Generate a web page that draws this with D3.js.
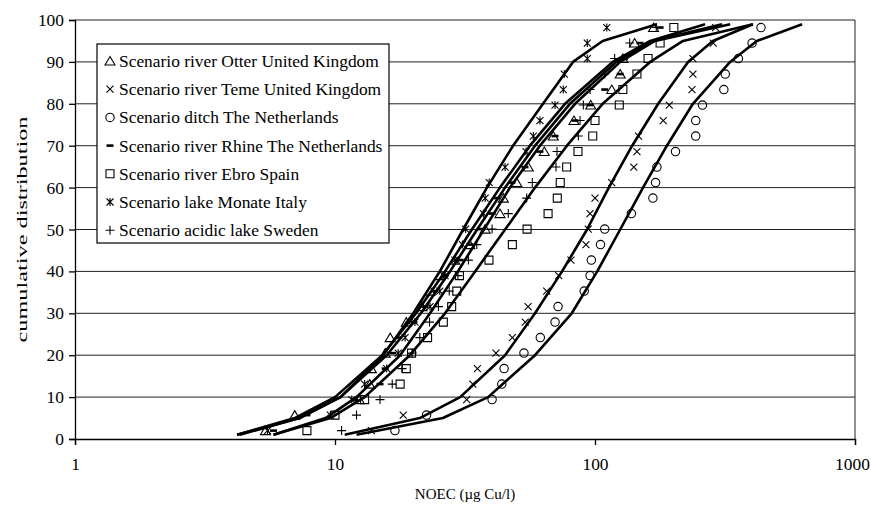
<!DOCTYPE html>
<html>
<head>
<meta charset="utf-8">
<script src="https://cdn.jsdelivr.net/npm/d3@7"></script>
<style>
  body { margin: 0; background: #fff; }
  svg text { font-family: "Liberation Serif", "Times New Roman", "DejaVu Serif", serif; fill: #000; }
</style>
</head>
<body>
<div id="chart"></div>
<script>
// cumulative rank (%) of the 27 species, same for every scenario
const rankPct = [2.0, 5.7, 9.4, 13.1, 16.8, 20.5, 24.2, 27.9, 31.6, 35.3, 39.0, 42.7, 46.4, 50.1,
  53.8, 57.5, 61.2, 64.9, 68.6, 72.3, 76.0, 79.7, 83.4, 87.1, 90.8, 94.5, 98.2];

// NOEC values (ug Cu/l) per scenario
const otterPts  = [5.4, 7.0, 12.4, 13.6, 13.8, 15.6, 16.3, 18.8, 21.6, 23.2, 25.3, 28.9, 33.0, 37.8, 43.1, 44.4, 50.0, 55.4, 63.8, 69.1, 83.0, 96.3, 116, 125, 128, 142, 168];
const temePts   = [13.8, 18.3, 32.1, 33.9, 35.3, 41.6, 48.1, 53.9, 55.3, 65.2, 72.5, 80.8, 92.3, 94.2, 95.7, 100, 116, 141, 145, 147, 183, 193, 236, 238, 238, 285, 291];
const ditchPts  = [17.0, 22.5, 40.2, 43.8, 44.7, 53.3, 61.6, 70.2, 72.1, 90.9, 95.7, 96.8, 105, 109, 138, 167, 171, 173, 204, 244, 244, 259, 313, 317, 356, 402, 435];
const rhinePts  = [5.8, 7.8, 11.9, 14.9, 15.6, 16.7, 17.6, 20.1, 22.2, 24.2, 26.5, 30.3, 33.0, 36.1, 40.2, 42.0, 47.9, 53.8, 61.4, 70.2, 83.8, 95.7, 109, 125, 130, 149, 178];
const ebroPts   = [7.8, 10.0, 13.0, 17.8, 18.8, 19.7, 22.7, 26.1, 28.1, 29.4, 30.1, 39.1, 48.1, 54.8, 66.0, 71.6, 73.5, 77.8, 86.0, 98.0, 100, 124, 128, 145, 160, 178, 201];
const monatePts = [5.5, 9.6, 11.6, 13.0, 15.8, 17.5, 18.6, 20.3, 23.2, 25.3, 26.5, 28.9, 30.9, 31.8, 37.2, 37.8, 39.2, 45.1, 54.3, 57.9, 61.4, 70.2, 75.5, 76.2, 93.4, 93.4, 111];
const swedenPts = [10.6, 12.1, 14.9, 16.6, 18.1, 19.8, 21.2, 23.1, 25.0, 27.5, 29.7, 32.6, 35.1, 40.2, 46.4, 54.6, 57.4, 70.8, 71.4, 86.3, 87.6, 90.2, 95.7, 109, 119, 136, 172];

// fitted curves, read at these percentiles
const curvePct = [1, 5, 10, 20, 30, 40, 50, 60, 70, 80, 90, 95, 99];
const otterFit  = [4.2, 7.0, 10.0, 15.2, 20.5, 26.5, 33.6, 43.1, 56.2, 76.7, 117, 163, 265];
const temeFit   = [10.9, 21.2, 30.3, 45.1, 58.8, 74.7, 93.2, 113, 139, 175, 228, 284, 405];
const ditchFit  = [12.1, 26.0, 38.8, 58.8, 81.4, 102, 125, 153, 189, 238, 331, 419, 626];
const rhineFit  = [4.3, 7.3, 10.5, 15.8, 21.4, 27.7, 35.2, 45.1, 58.8, 80.1, 121, 167, 308];
const ebroFit   = [5.8, 9.6, 13.0, 19.4, 26.5, 34.6, 45.1, 58.8, 78.0, 107, 163, 218, 405];
const monateFit = [4.2, 7.3, 10.5, 15.3, 20.0, 25.3, 31.1, 38.4, 48.4, 63.1, 82.3, 107, 173];
const swedenFit = [5.8, 9.2, 12.1, 17.8, 23.2, 29.7, 37.4, 47.1, 61.4, 83.8, 125, 170, 331];

const seriesNames = [
  "Scenario river Otter United Kingdom",
  "Scenario river Teme United Kingdom",
  "Scenario ditch The Netherlands",
  "Scenario river Rhine The Netherlands",
  "Scenario river Ebro Spain",
  "Scenario lake Monate Italy",
  "Scenario acidic lake Sweden"
];
const seriesMarkers = ["triangle", "cross", "circle", "dash", "square", "star", "plus"];

const xTicks = [1, 10, 100, 1000];
const yTicks = [0, 10, 20, 30, 40, 50, 60, 70, 80, 90, 100];

const series = seriesNames.map((name, i) => ({
  name,
  marker: seriesMarkers[i],
  pts: [otterPts, temePts, ditchPts, rhinePts, ebroPts, monatePts, swedenPts][i],
  fit: [otterFit, temeFit, ditchFit, rhineFit, ebroFit, monateFit, swedenFit][i]
}));

const serif = "'Liberation Serif', 'Times New Roman', 'DejaVu Serif', serif";
const width = 871, height = 505;
const margin = { left: 75, right: 16, top: 20, bottom: 66 };

const svg = d3.select("#chart").append("svg")
  .attr("width", width)
  .attr("height", height);

const x = d3.scaleLog().domain([1, 1000]).range([margin.left, width - margin.right]);
const y = d3.scaleLinear().domain([0, 100]).range([height - margin.bottom, margin.top]);

// gridlines
svg.append("g")
  .selectAll("line")
  .data(yTicks.filter(d => d > 0))
  .join("line")
  .attr("x1", x(1)).attr("x2", x(1000))
  .attr("y1", d => y(d)).attr("y2", d => y(d))
  .attr("stroke", "#222")
  .attr("stroke-width", 1);

// right border
svg.append("line")
  .attr("x1", x(1000)).attr("x2", x(1000))
  .attr("y1", y(0)).attr("y2", y(100))
  .attr("stroke", "#222");

// axes
const xAxis = svg.append("g")
  .attr("transform", `translate(0,${y(0)})`)
  .call(d3.axisBottom(x).tickValues(xTicks).tickFormat(d3.format("d")).tickSize(6).tickPadding(13));
const yAxis = svg.append("g")
  .attr("transform", `translate(${x(1)},0)`)
  .call(d3.axisLeft(y).tickValues(yTicks).tickSize(6).tickPadding(5));

[xAxis, yAxis].forEach(g => {
  g.attr("font-family", null);
  g.select(".domain").attr("stroke", "#000").attr("stroke-width", 1.3);
  g.selectAll(".tick line").attr("stroke", "#000").attr("stroke-width", 1.3);
  g.selectAll(".tick text")
    .style("font-family", serif)
    .style("font-size", "17.4px")
    .attr("fill", "#000");
});
// keep the last label inside the picture
xAxis.selectAll(".tick text").filter(d => d === 1000).attr("dx", -3);

// axis titles
svg.append("text")
  .attr("x", (x(1) + x(1000)) / 2)
  .attr("y", 499)
  .attr("text-anchor", "middle")
  .style("font-size", "15px")
  .text("NOEC (\u00b5g Cu/l)");

svg.append("text")
  .attr("transform", `translate(27,${(y(0) + y(100)) / 2}) rotate(-90)`)
  .attr("text-anchor", "middle")
  .attr("textLength", 226)
  .attr("lengthAdjust", "spacingAndGlyphs")
  .style("font-size", "15.5px")
  .text("cumulative distribution");

// marker shapes
function markerPath(type) {
  switch (type) {
    case "triangle": return "M0,-4.5L5,4L-5,4Z";
    case "square":   return "M-4,-4H4V4H-4Z";
    case "cross":    return "M-3.5,-3.5L3.5,3.5M-3.5,3.5L3.5,-3.5";
    case "plus":     return "M-4.5,0H4.5M0,-4.5V4.5";
    case "star":     return "M-3.5,-3.5L3.5,3.5M-3.5,3.5L3.5,-3.5M0,-4V4";
    case "dash":     return "M-3.5,0H3.5";
    default:         return null;
  }
}

function drawMarker(g, type, cx, cy) {
  if (type === "circle") {
    g.append("circle").attr("cx", cx).attr("cy", cy).attr("r", 4.2)
      .attr("fill", "none").attr("stroke", "#000").attr("stroke-width", 1.1);
  } else {
    g.append("path")
      .attr("d", markerPath(type))
      .attr("transform", `translate(${cx},${cy})`)
      .attr("fill", "none")
      .attr("stroke", "#000")
      .attr("stroke-width", type === "dash" ? 2.6 : 1.1);
  }
}

// fitted curves
const line = d3.line().x(d => x(d[0])).y(d => y(d[1]));
const plot = svg.append("g");
series.forEach(s => {
  plot.append("path")
    .datum(s.fit.map((v, i) => [v, curvePct[i]]))
    .attr("d", line)
    .attr("fill", "none")
    .attr("stroke", "#000")
    .attr("stroke-width", 2.6)
    .attr("stroke-linejoin", "round");
});

// data points
series.forEach(s => {
  const g = plot.append("g");
  s.pts.forEach((v, i) => drawMarker(g, s.marker, x(v), y(rankPct[i])));
});

// legend
const legend = svg.append("g").attr("transform", "translate(97,44)");
legend.append("rect")
  .attr("width", 292).attr("height", 199)
  .attr("fill", "#fff").attr("stroke", "#000").attr("stroke-width", 1.2);
series.forEach((s, i) => {
  const ly = 17 + i * 28.2;
  drawMarker(legend, s.marker, 13, ly);
  legend.append("text")
    .attr("x", 22).attr("y", ly + 6)
    .style("font-size", "17.4px")
    .text(s.name);
});
</script>
</body>
</html>
